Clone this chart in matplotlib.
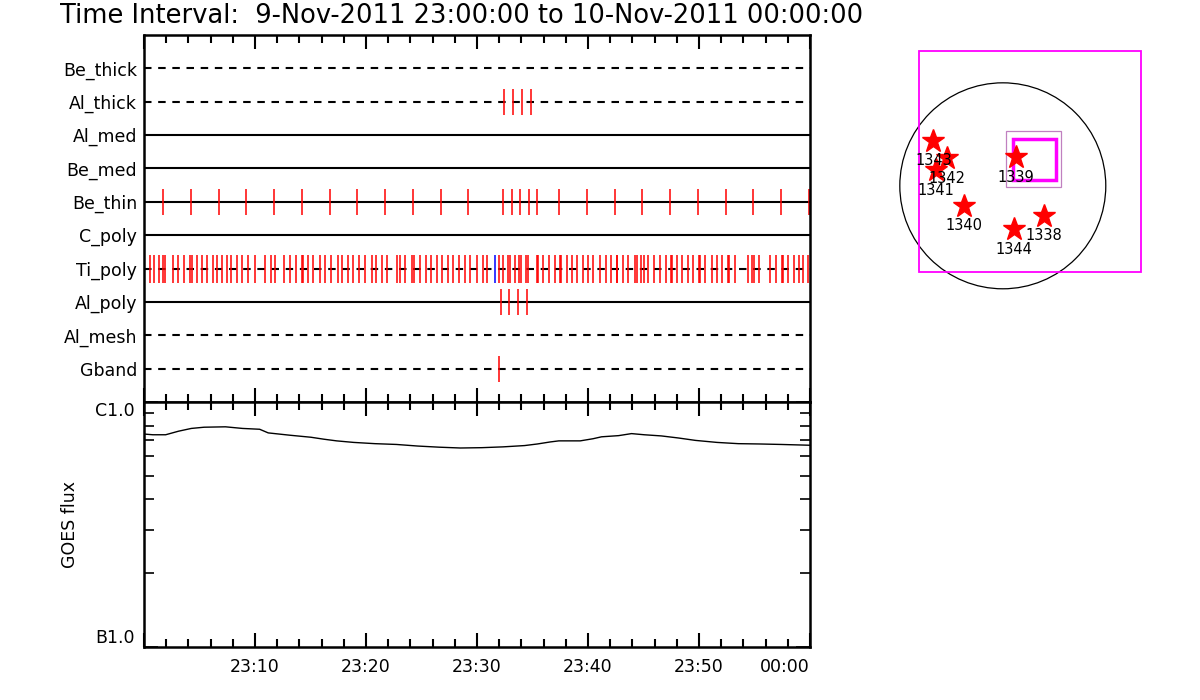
import numpy as np
import matplotlib
matplotlib.use("Agg")
import matplotlib.pyplot as plt
from matplotlib.ticker import LogLocator, NullFormatter, FixedLocator, MultipleLocator
from matplotlib.patches import Rectangle, Circle

# ---------------- data ----------------
title = "Time Interval:  9-Nov-2011 23:00:00 to 10-Nov-2011 00:00:00"

filters = ["Be_thick", "Al_thick", "Al_med", "Be_med", "Be_thin",
           "C_poly", "Ti_poly", "Al_poly", "Al_mesh", "Gband"]
dashed_rows = ["Be_thick", "Al_thick", "Ti_poly", "Al_mesh", "Gband"]

# exposure times, minutes after 23:00
t_al_thick = [32.46, 33.27, 34.08, 34.89]
t_al_poly = [32.19, 32.91, 33.72, 34.53]
t_gband = [32.01]
t_be_thin = [1.74, 4.23, 6.76, 9.19, 11.71, 14.23, 16.76, 19.22, 21.74, 24.26,
             26.78, 29.22, 32.37, 33.18, 33.90, 34.71, 35.38, 37.41, 39.94,
             42.46, 44.89, 47.41, 49.94, 52.46, 54.89, 57.41, 59.94]
t_ti_poly = [0.54, 0.90, 1.38, 1.68, 1.92, 2.64, 3.09, 3.60, 4.14, 4.30, 4.75,
             5.20, 5.65, 6.19, 6.60, 7.00, 7.45, 7.81, 8.35, 8.80, 9.40, 10.00,
             10.90, 11.44, 11.80, 12.61, 13.15, 13.69, 14.21, 14.35, 14.80,
             15.25, 15.86, 16.31, 16.85, 17.45, 17.86, 18.41, 18.86, 19.37,
             19.91, 20.51, 20.87, 21.41, 21.86, 22.77, 23.06, 23.51, 24.17,
             24.35, 24.86, 25.38, 25.86, 26.37, 26.82, 27.36, 27.86, 28.38,
             28.92, 29.37, 29.97, 30.57, 30.93, 32.01, 32.37, 32.82, 32.97,
             33.42, 33.81, 33.94, 34.41, 34.62, 35.38, 35.52, 35.92, 36.51,
             37.03, 37.48, 37.54, 38.08, 38.53, 38.98, 39.58, 40.03, 40.48,
             41.08, 41.62, 42.05, 42.59, 42.64, 43.13, 43.63, 44.23, 44.39,
             44.77, 45.07, 45.43, 45.97, 46.49, 47.00, 47.48, 47.59, 47.99,
             48.50, 49.04, 49.49, 50.00, 50.09, 50.54, 51.14, 51.59, 52.10,
             52.59, 52.70, 53.24, 54.39, 54.80, 54.98, 55.41, 56.40, 56.91,
             57.45, 57.59, 57.99, 58.59, 59.01, 59.40, 59.79]
t_ti_poly_blue = [31.62]

# GOES flux (units of 1e-7 W/m^2)
goes_t = [0.0, 0.80, 1.95, 3.11, 4.26, 5.41, 7.34, 8.88, 10.42, 11.19, 13.12,
          15.04, 16.20, 17.35, 18.89, 20.81, 22.74, 24.67, 26.59, 28.51,
          30.44, 32.36, 34.29, 35.44, 36.60, 37.37, 39.30, 40.45, 41.22,
          42.76, 43.92, 45.07, 46.61, 48.15, 49.69, 51.62, 53.54, 55.47,
          57.39, 60.0]
goes_f = [7.40, 7.35, 7.35, 7.60, 7.80, 7.89, 7.92, 7.80, 7.74, 7.48, 7.32,
          7.18, 7.05, 6.94, 6.84, 6.76, 6.71, 6.61, 6.54, 6.49, 6.51, 6.56,
          6.64, 6.74, 6.87, 6.94, 6.94, 7.08, 7.21, 7.29, 7.43, 7.35, 7.27,
          7.13, 6.97, 6.84, 6.76, 6.74, 6.71, 6.66]

xtick_minutes = [0, 10, 20, 30, 40, 50, 60]
xtick_labels = ["", "23:10", "23:20", "23:30", "23:40", "23:50", "00:00"]

# Sun map (arcsec)
ar_numbers = ["1343", "1342", "1341", "1339", "1340", "1338", "1344"]
ar_x = [-651, -520, -626, 124, -364, 386, 105]
ar_y = [423, 258, 148, 267, -186, -280, -408]
sun_radius = 965
fov_outer = (-788, -805, 2080, 2071)   # x0, y0, w, h
fov_inner = (30, -11, 518, 522)
fov_thick = (93, 54, 403, 387)

# ---------------- figure ----------------
fig = plt.figure(figsize=(12, 7), dpi=100)
plt.rcParams['font.family'] = ['DejaVu Sans']

W, H = 1200.0, 700.0
def px_axes(x0, y0, x1, y1):
    return fig.add_axes([x0 / W, 1 - y1 / H, (x1 - x0) / W, (y1 - y0) / H])

fig.text(60 / W, 1 - 16 / H, title, fontsize=18.5, va='center', ha='left')

# ---- filter timeline ----
ax = px_axes(144, 35, 810, 402)
ax.set_xlim(0, 60)
ax.set_ylim(len(filters) + 1, 0)
rows = {f: i + 1 for i, f in enumerate(filters)}
for f in filters:
    y = rows[f]
    if f in dashed_rows:
        ax.plot([0, 60], [y, y], color='black', lw=1.5, linestyle=(0, (3.6, 3.2)))
    else:
        ax.plot([0, 60], [y, y], color='black', lw=1.5)

hh = 0.39
ax.vlines(t_al_thick, rows["Al_thick"] - hh, rows["Al_thick"] + hh, color='red', lw=1.1)
ax.vlines(t_be_thin, rows["Be_thin"] - hh, rows["Be_thin"] + hh, color='red', lw=1.1)
ax.vlines(t_ti_poly, rows["Ti_poly"] - 0.42, rows["Ti_poly"] + 0.42, color='red', lw=1.1)
ax.vlines(t_ti_poly_blue, rows["Ti_poly"] - 0.42, rows["Ti_poly"] + 0.42, color='blue', lw=1.1)
ax.vlines(t_al_poly, rows["Al_poly"] - hh, rows["Al_poly"] + hh, color='red', lw=1.1)
ax.vlines(t_gband, rows["Gband"] - hh, rows["Gband"] + hh, color='red', lw=1.1)

ax.set_yticks([rows[f] for f in filters])
ax.set_yticklabels(filters, fontsize=12.5)
ax.tick_params(axis='y', length=0, pad=5)
ax.xaxis.set_major_locator(FixedLocator(xtick_minutes))
ax.xaxis.set_minor_locator(MultipleLocator(2))
ax.tick_params(axis='x', which='both', direction='in', top=True, bottom=True,
               labelbottom=False, width=1.5)
ax.tick_params(axis='x', which='major', length=10)
ax.tick_params(axis='x', which='minor', length=6)
for s in ax.spines.values():
    s.set_linewidth(1.8)

# ---- GOES ----
gx = px_axes(144, 402, 810, 647)
gx.plot(goes_t, np.array(goes_f) * 1e-7, color='black', lw=1.0)
gx.set_yscale('log')
gx.set_ylim(1e-7, 1e-6)
gx.set_xlim(0, 60)
gx.set_yticks([1e-7, 1e-6])
gx.set_yticklabels(["B1.0", "C1.0"], fontsize=12.5)
gx.get_yticklabels()[0].set_va('bottom')
gx.get_yticklabels()[1].set_va('top')
gx.yaxis.set_minor_locator(LogLocator(base=10, subs=np.arange(2, 10)))
gx.yaxis.set_minor_formatter(NullFormatter())
gx.tick_params(axis='y', which='both', direction='in', left=True, right=True, width=1.2)
gx.tick_params(axis='y', which='major', length=10, pad=7)
gx.tick_params(axis='y', which='minor', length=7)
gx.xaxis.set_major_locator(FixedLocator(xtick_minutes))
gx.set_xticklabels(xtick_labels, fontsize=12.5)
gx.get_xticklabels()[-1].set_ha('right')
gx.xaxis.set_minor_locator(MultipleLocator(2))
gx.tick_params(axis='x', which='both', direction='in', top=True, bottom=True, width=1.5)
gx.tick_params(axis='x', which='major', length=10, pad=8)
gx.tick_params(axis='x', which='minor', length=6)
gx.set_ylabel("GOES flux", fontsize=12.5, labelpad=11)
for s in gx.spines.values():
    s.set_linewidth(1.8)

# ---- Sun map ----
mx = px_axes(890, 30, 1160, 300)
mx.set_xlim(-1057, 1473)
mx.set_ylim(-1070, 1460)
mx.axis('off')
mx.add_patch(Circle((0, 0), sun_radius, fill=False, edgecolor='black', lw=0.9))
mx.add_patch(Rectangle(fov_outer[:2], fov_outer[2], fov_outer[3], fill=False,
                       edgecolor='#ff00ff', lw=1.3))
mx.add_patch(Rectangle(fov_inner[:2], fov_inner[2], fov_inner[3], fill=False,
                       edgecolor='#c080c0', lw=0.9))
mx.add_patch(Rectangle(fov_thick[:2], fov_thick[2], fov_thick[3], fill=False,
                       edgecolor='#ff00ff', lw=2.5))
mx.plot(ar_x, ar_y, linestyle='none', marker='*', color='red', markersize=17,
        markeredgecolor='red')
for n, x, y in zip(ar_numbers, ar_x, ar_y):
    mx.text(x, y - 190, n, ha='center', va='center', fontsize=10.5, color='black')

fig.savefig("out.png", dpi=100)
